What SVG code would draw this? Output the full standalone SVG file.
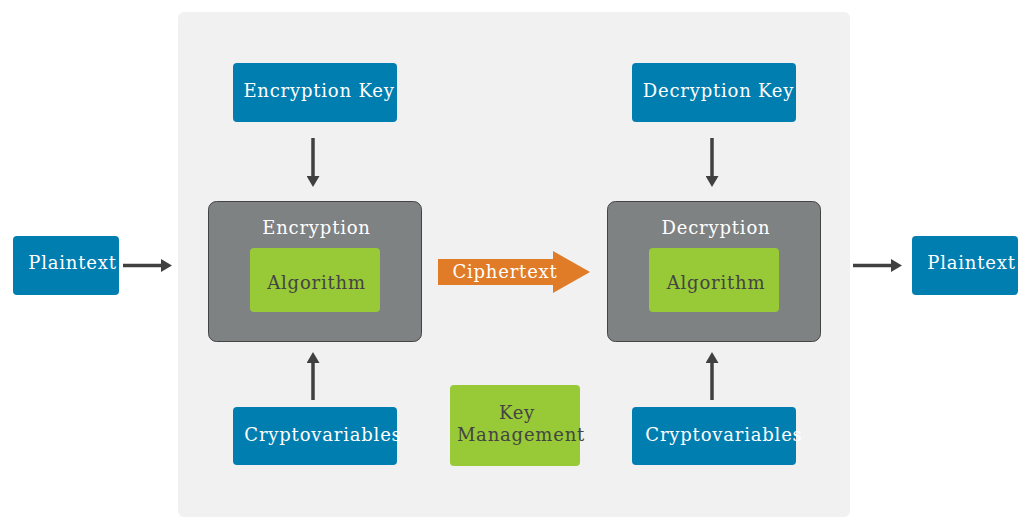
<svg xmlns="http://www.w3.org/2000/svg" width="1031" height="528" viewBox="0 0 1031 528">
<defs>
<style>
.blue{fill:#007eb0;}
.green{fill:#98c936;}
.gray{fill:#7f8282;stroke:#444;stroke-width:1;}
.t{font-family:"DejaVu Serif",serif;font-size:18px;letter-spacing:0.8px;text-anchor:middle;}
.w{fill:#ffffff;}
.d{fill:#444444;}
.conn{stroke:#404040;stroke-width:3.5;fill:none;}
</style>
<marker id="ah" viewBox="0 0 11 13" refX="1" refY="6.5" markerWidth="11" markerHeight="13" markerUnits="userSpaceOnUse" orient="auto">
<path d="M0,0 L11,6.5 L0,13 Z" fill="#404040"/>
</marker>
</defs>
<rect width="1031" height="528" fill="#ffffff"/>
<rect id="panel" x="178" y="12" width="672" height="505" rx="6" fill="#f1f1f1"/>

<g id="connectors">
<line class="conn" x1="123" y1="265.5" x2="162" y2="265.5" marker-end="url(#ah)"/>
<line class="conn" x1="853" y1="265.5" x2="892" y2="265.5" marker-end="url(#ah)"/>
<line class="conn" x1="313" y1="138" x2="313" y2="177" marker-end="url(#ah)"/>
<line class="conn" x1="712" y1="138" x2="712" y2="177" marker-end="url(#ah)"/>
<line class="conn" x1="313" y1="400" x2="313" y2="362" marker-end="url(#ah)"/>
<line class="conn" x1="712" y1="400" x2="712" y2="362" marker-end="url(#ah)"/>
<g id="ciphertext">
<path d="M438,259 L553,259 L553,251 L590,272 L553,293 L553,285 L438,285 Z" fill="#e07b27"/>
<text class="t w" x="505" y="278">Ciphertext</text>
</g>
</g>

<g id="plaintext-in">
<rect class="blue" x="13" y="236" width="106" height="59" rx="4"/>
<text class="t w" x="72.5" y="268.5">Plaintext</text>
</g>
<g id="plaintext-out">
<rect class="blue" x="912" y="236" width="106" height="59" rx="4"/>
<text class="t w" x="971.5" y="268.5">Plaintext</text>
</g>

<g id="enc-key">
<rect class="blue" x="233" y="63" width="164" height="59" rx="4"/>
<text class="t w" x="319" y="97">Encryption Key</text>
</g>
<g id="dec-key">
<rect class="blue" x="632" y="63" width="164" height="59" rx="4"/>
<text class="t w" x="718.5" y="97">Decryption Key</text>
</g>

<g id="encryption">
<rect class="gray" x="208.5" y="201.5" width="213" height="140" rx="8"/>
<text class="t w" x="316.5" y="233.5">Encryption</text>
<rect class="green" x="250" y="248" width="130" height="64" rx="4"/>
<text class="t d" x="316.5" y="288.5">Algorithm</text>
</g>
<g id="decryption">
<rect class="gray" x="607.5" y="201.5" width="213" height="140" rx="8"/>
<text class="t w" x="716" y="233.5">Decryption</text>
<rect class="green" x="649" y="248" width="130" height="64" rx="4"/>
<text class="t d" x="716" y="288.5">Algorithm</text>
</g>

<g id="cryptovars-enc">
<rect class="blue" x="233" y="407" width="164" height="58" rx="4"/>
<text class="t w" x="323" y="441">Cryptovariables</text>
</g>
<g id="cryptovars-dec">
<rect class="blue" x="632" y="407" width="164" height="58" rx="4"/>
<text class="t w" x="724" y="441">Cryptovariables</text>
</g>

<g id="key-management">
<rect class="green" x="450" y="385" width="130" height="81" rx="4"/>
<text class="t d" x="517" y="419">Key</text>
<text class="t d" x="521" y="441">Management</text>
</g>
</svg>
